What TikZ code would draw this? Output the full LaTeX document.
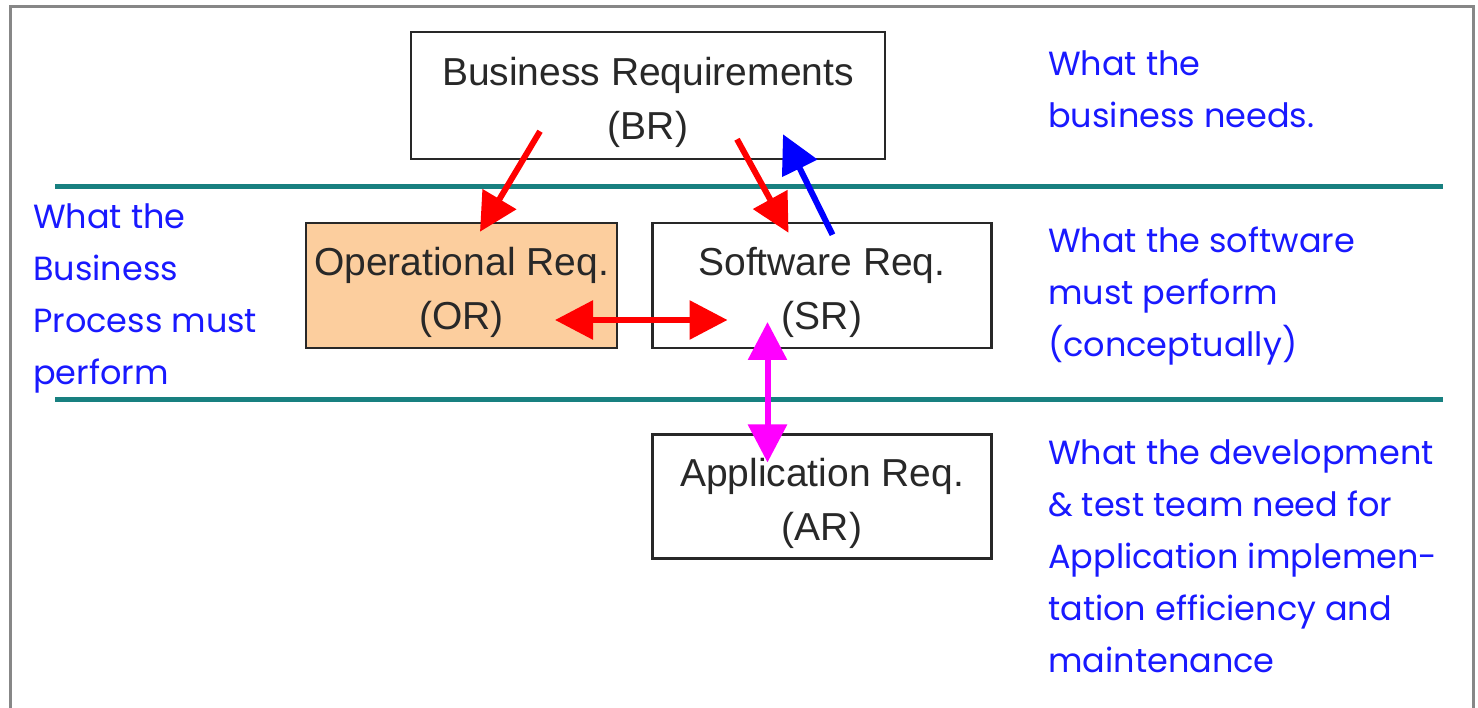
\documentclass[tikz,border=0pt]{standalone}
\usepackage{fontspec}
\setmainfont{Liberation Sans}
\newfontfamily\notefont{Poppins}
\usepackage{xcolor}
\usetikzlibrary{positioning,arrows.meta}

\definecolor{peach}{RGB}{252,206,158}
\definecolor{tealline}{RGB}{24,128,128}
\definecolor{framegray}{RGB}{135,135,135}
\definecolor{noteblue}{RGB}{25,25,255}
\definecolor{pinkarrow}{RGB}{255,0,255}
\definecolor{boxtext}{RGB}{40,40,40}

% lowers the first line a little
\newcommand{\topstrut}{\rule{0pt}{42pt}}

\tikzset{
    reqbox/.style={draw=boxtext, line width=2.5pt, rectangle, align=center, inner sep=0pt,
        text=boxtext, font=\fontsize{39}{54}\selectfont},
    note/.style={anchor=west, align=left, inner sep=0pt, text=noteblue,
        font=\notefont\fontsize{33.5}{52}\selectfont},
    band/.style={tealline, line width=5pt},
    link/.style={line width=6pt, -{Triangle[length=38pt,width=38pt]}},
    twoway/.style={line width=6pt, {Triangle[length=38pt,width=38pt]}-{Triangle[length=38pt,width=38pt]}}
}

\begin{document}
\begin{tikzpicture}[x=1pt, y=1pt, node distance=33pt]
    \clip (0,0) rectangle (1478,-708);
    \fill[white] (0,0) rectangle (1478,-708);
    % frame
    \draw[framegray, line width=3pt] (10,-720) -- (10,-7) -- (1473,-7) -- (1473,-720);

    % bands
    \coordinate (b1l) at (55,-187);
    \coordinate (b1r) at (1443,-187);
    \coordinate (b2l) at (55,-400);
    \coordinate (b2r) at (1443,-400);
    \draw[band] (b1l) -- (b1r);
    \draw[band] (b2l) -- (b2r);

    % requirement boxes
    \node[reqbox, minimum width=474pt, minimum height=127pt] (br) at (648,-95.5)
        {\topstrut Business Requirements\\ (BR)};
    \node[reqbox, fill=peach, minimum width=311pt, minimum height=125pt] (or) at (461.5,-285.5)
        {\topstrut Operational Req.\\ (OR)};
    \node[reqbox, minimum width=339pt, minimum height=125pt, right=of or] (sr)
        {\topstrut Software Req.\\ (SR)};
    \node[reqbox, minimum width=339pt, minimum height=124pt, below=84pt of sr] (ar)
        {\topstrut Application Req.\\ (AR)};

    % notes
    \node[note] (notebp) at (33,-298) {What the\\ Business\\ Process must\\ perform};
    \node[note] (notebr) at (1048,-89) {What the\\ business needs.};
    \node[note] (notesr) at (1048,-296) {What the software\\ must perform\\ (conceptually)};
    \node[note] (notear) at (1048,-556) {What the development\\ \& test team need for\\ Application implemen-\\ tation efficiency and\\ maintenance};

    % arrows
    \draw[link, red] ([shift={(-108,29)}]br.south) -- ([shift={(18.5,-10)}]or.north);
    \draw[link, red] ([shift={(89,21)}]br.south) -- ([shift={(-33.5,-11)}]sr.north);
    \draw[link, blue] ([shift={(10.5,-13)}]sr.north) -- ([shift={(135,26)}]br.south);
    \draw[twoway, red] ([shift={(93.5,-34.5)}]or.center) -- ([shift={(-94.5,-34.5)}]sr.center);
    \draw[twoway, pinkarrow] ([shift={(-54.5,-36.5)}]sr.center) -- ([shift={(-54.5,34)}]ar.center);
\end{tikzpicture}
\end{document}
